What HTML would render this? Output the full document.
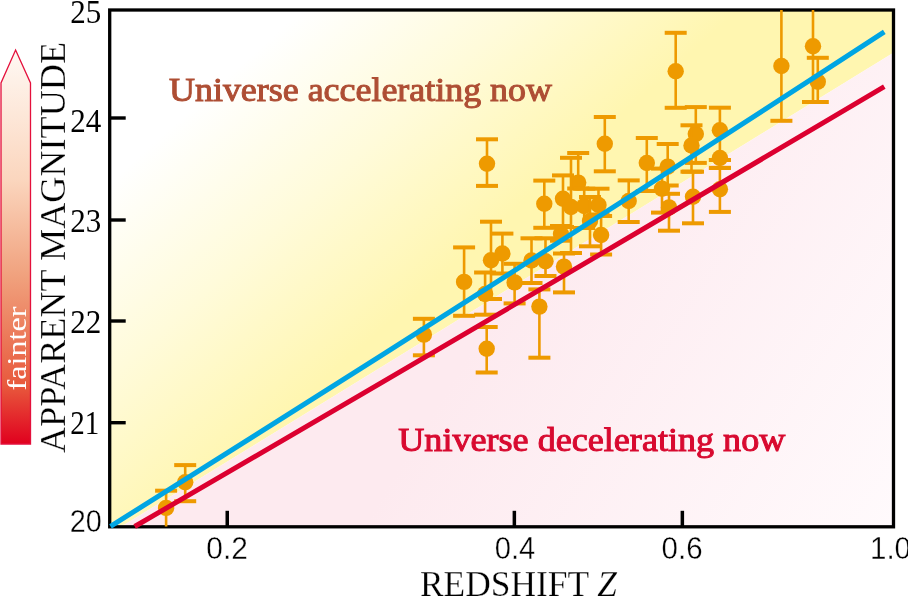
<!DOCTYPE html>
<html><head><meta charset="utf-8">
<style>
html,body{margin:0;padding:0;background:#fff;}
body{width:908px;height:597px;overflow:hidden;}
svg{display:block;will-change:transform;}
text{font-family:"Liberation Serif",serif;}
.sans{font-family:"Liberation Sans",sans-serif;}
</style></head><body>
<svg width="908" height="597" viewBox="0 0 908 597">
<defs>
<linearGradient id="gy" gradientUnits="userSpaceOnUse" x1="196" y1="105" x2="390" y2="322">
<stop offset="0" stop-color="#FFFFFF"/>
<stop offset="0.5" stop-color="#FFFBDA"/>
<stop offset="1" stop-color="#FFF6B0"/>
</linearGradient>
<linearGradient id="gp" gradientUnits="userSpaceOnUse" x1="508" y1="289" x2="893" y2="526">
<stop offset="0" stop-color="#FDEAEF"/>
<stop offset="1" stop-color="#FFFAFC"/>
</linearGradient>
<linearGradient id="ga" gradientUnits="userSpaceOnUse" x1="0" y1="49" x2="0" y2="444">
<stop offset="0" stop-color="#FFF9F4"/>
<stop offset="0.33" stop-color="#FBD6BE"/>
<stop offset="0.58" stop-color="#F0A07C"/>
<stop offset="0.85" stop-color="#E85A3D"/>
<stop offset="1" stop-color="#E0001E"/>
</linearGradient>
</defs>
<!-- backgrounds -->
<polygon points="110,10 893,10 893,53.1 124.3,524.8 110,526" fill="url(#gy)"/>
<polygon points="893,53.1 893,526 124.3,526 124.3,524.8" fill="url(#gp)"/>
<!-- arrow -->
<polygon points="1,444 1,83 15.6,50 30.5,83 30.5,444" fill="url(#ga)" stroke="#E4103C" stroke-width="1.3"/>
<text x="26" y="390.5" transform="rotate(-90 26 390.5)" fill="#fff" font-size="28" textLength="84" lengthAdjust="spacingAndGlyphs">fainter</text>
<!-- labels -->
<text x="64.8" y="453" transform="rotate(-90 64.8 453)" fill="#000" stroke="#fff" stroke-width="0.25" font-size="35" textLength="411" lengthAdjust="spacingAndGlyphs">APPARENT MAGNITUDE</text>
<text x="420" y="595.7" fill="#000" stroke="#fff" stroke-width="0.25" font-size="35" textLength="197" lengthAdjust="spacingAndGlyphs">REDSHIFT <tspan font-style="italic">Z</tspan></text>
<!-- y ticks labels -->
<g fill="#000" font-size="34">
<text x="70.3" y="23" textLength="31" lengthAdjust="spacingAndGlyphs">25</text>
<text x="70.3" y="131.7" textLength="31" lengthAdjust="spacingAndGlyphs">24</text>
<text x="70.3" y="231.5" textLength="31" lengthAdjust="spacingAndGlyphs">23</text>
<text x="70.3" y="332.9" textLength="31" lengthAdjust="spacingAndGlyphs">22</text>
<text x="70.3" y="433.9" textLength="29" lengthAdjust="spacingAndGlyphs">21</text>
</g>
<g fill="#000" stroke="#fff" stroke-width="0.35" font-size="31" class="sans">
<text class="sans" x="69.8" y="532.2" textLength="32" lengthAdjust="spacingAndGlyphs">20</text>
<text class="sans" x="206.3" y="559.2" textLength="41.5" lengthAdjust="spacingAndGlyphs">0.2</text>
<text class="sans" x="494.8" y="558.8" textLength="40.5" lengthAdjust="spacingAndGlyphs">0.4</text>
<text class="sans" x="661.6" y="558.9" textLength="41" lengthAdjust="spacingAndGlyphs">0.6</text>
<text class="sans" x="870" y="559.2" textLength="41" lengthAdjust="spacingAndGlyphs">1.0</text>
</g>
<!-- region labels -->
<text x="169" y="101" fill="#AE4E34" stroke="#AE4E34" stroke-width="1.0" font-size="33" textLength="383" lengthAdjust="spacingAndGlyphs">Universe accelerating now</text>
<text x="398.3" y="451.1" fill="#D80A30" stroke="#D80A30" stroke-width="1.0" font-size="33" textLength="387" lengthAdjust="spacingAndGlyphs">Universe decelerating now</text>
<!-- frame + ticks -->
<g fill="#000">
<rect x="109.7" y="116.3" width="16" height="3.4"/>
<rect x="109.7" y="218.3" width="16" height="3.4"/>
<rect x="109.7" y="319.3" width="16" height="3.4"/>
<rect x="109.7" y="421" width="16" height="3.4"/>
<rect x="225.5" y="510.8" width="3.5" height="16"/>
<rect x="512.6" y="510.8" width="3.5" height="16"/>
<rect x="680.6" y="510.8" width="3.5" height="16"/>
</g>
<rect x="109.7" y="10" width="783.8" height="516.8" fill="none" stroke="#000" stroke-width="3.3"/>
<!-- points -->
<g fill="#EE9A00">
<rect x="164.8" y="490.7" width="2.6" height="35.8"/>
<rect x="155.1" y="488.7" width="22" height="4"/>
<circle cx="166.1" cy="507.9" r="8.2"/>
<rect x="183.9" y="465.1" width="2.6" height="36.1"/>
<rect x="174.2" y="463.1" width="22" height="4"/>
<rect x="174.2" y="499.2" width="22" height="4"/>
<circle cx="185.2" cy="482.2" r="8.2"/>
<rect x="422.6" y="318.8" width="2.6" height="36.5"/>
<rect x="412.9" y="316.8" width="22" height="4"/>
<rect x="412.9" y="353.3" width="22" height="4"/>
<circle cx="423.9" cy="334.6" r="8.2"/>
<rect x="462.8" y="247.4" width="2.6" height="68.4"/>
<rect x="453.1" y="245.4" width="22" height="4"/>
<rect x="453.1" y="313.8" width="22" height="4"/>
<circle cx="464.1" cy="281.9" r="8.2"/>
<rect x="485.7" y="139.3" width="2.6" height="46.6"/>
<rect x="476.0" y="137.3" width="22" height="4"/>
<rect x="476.0" y="183.9" width="22" height="4"/>
<circle cx="487.0" cy="163.8" r="8.2"/>
<rect x="483.8" y="272.5" width="2.6" height="42.2"/>
<rect x="474.1" y="270.5" width="22" height="4"/>
<rect x="474.1" y="312.7" width="22" height="4"/>
<circle cx="485.1" cy="294.0" r="8.2"/>
<rect x="485.4" y="327.0" width="2.6" height="45.5"/>
<rect x="475.7" y="325.0" width="22" height="4"/>
<rect x="475.7" y="370.5" width="22" height="4"/>
<circle cx="486.7" cy="348.8" r="8.2"/>
<rect x="489.7" y="221.7" width="2.6" height="77.3"/>
<rect x="480.0" y="219.7" width="22" height="4"/>
<rect x="480.0" y="297.0" width="22" height="4"/>
<circle cx="491.0" cy="260.3" r="8.2"/>
<rect x="501.1" y="233.6" width="2.6" height="39.9"/>
<rect x="491.4" y="231.6" width="22" height="4"/>
<rect x="491.4" y="271.5" width="22" height="4"/>
<circle cx="502.4" cy="253.5" r="8.2"/>
<rect x="513.3" y="263.8" width="2.6" height="39.6"/>
<rect x="503.6" y="261.8" width="22" height="4"/>
<rect x="503.6" y="301.4" width="22" height="4"/>
<circle cx="514.6" cy="282.4" r="8.2"/>
<rect x="538.1" y="289.4" width="2.6" height="68.3"/>
<rect x="528.4" y="287.4" width="22" height="4"/>
<rect x="528.4" y="355.7" width="22" height="4"/>
<circle cx="539.4" cy="306.6" r="8.2"/>
<rect x="562.7" y="253.5" width="2.6" height="38.9"/>
<rect x="553.0" y="251.5" width="22" height="4"/>
<rect x="553.0" y="290.4" width="22" height="4"/>
<circle cx="564.0" cy="266.6" r="8.2"/>
<rect x="543.0" y="180.6" width="2.6" height="47.2"/>
<rect x="533.3" y="178.6" width="22" height="4"/>
<rect x="533.3" y="225.8" width="22" height="4"/>
<circle cx="544.3" cy="203.8" r="8.2"/>
<rect x="561.7" y="175.4" width="2.6" height="51.6"/>
<rect x="552.0" y="173.4" width="22" height="4"/>
<rect x="552.0" y="225.0" width="22" height="4"/>
<circle cx="563.0" cy="198.7" r="8.2"/>
<rect x="576.9" y="153.0" width="2.6" height="35.5"/>
<rect x="567.2" y="151.0" width="22" height="4"/>
<rect x="567.2" y="186.5" width="22" height="4"/>
<circle cx="578.2" cy="182.6" r="8.2"/>
<rect x="569.7" y="157.8" width="2.6" height="95.2"/>
<rect x="560.0" y="155.8" width="22" height="4"/>
<rect x="560.0" y="251.0" width="22" height="4"/>
<circle cx="571.0" cy="207.0" r="8.2"/>
<rect x="582.9" y="188.7" width="2.6" height="39.3"/>
<rect x="573.2" y="186.7" width="22" height="4"/>
<rect x="573.2" y="226.0" width="22" height="4"/>
<circle cx="584.2" cy="206.0" r="8.2"/>
<rect x="597.2" y="188.7" width="2.6" height="25.8"/>
<rect x="587.5" y="186.7" width="22" height="4"/>
<rect x="587.5" y="212.5" width="22" height="4"/>
<circle cx="598.5" cy="205.0" r="8.2"/>
<rect x="559.7" y="226.0" width="2.6" height="14.7"/>
<rect x="550.0" y="224.0" width="22" height="4"/>
<rect x="550.0" y="238.7" width="22" height="4"/>
<circle cx="561.0" cy="234.0" r="8.2"/>
<rect x="599.8" y="216.0" width="2.6" height="38.5"/>
<rect x="590.1" y="214.0" width="22" height="4"/>
<rect x="590.1" y="252.5" width="22" height="4"/>
<circle cx="601.1" cy="235.0" r="8.2"/>
<rect x="588.7" y="197.0" width="2.6" height="49.3"/>
<rect x="579.0" y="195.0" width="22" height="4"/>
<rect x="579.0" y="244.3" width="22" height="4"/>
<circle cx="590.0" cy="221.0" r="8.2"/>
<rect x="530.2" y="238.3" width="2.6" height="44.7"/>
<rect x="520.5" y="236.3" width="22" height="4"/>
<rect x="520.5" y="281.0" width="22" height="4"/>
<circle cx="531.5" cy="260.5" r="8.2"/>
<rect x="544.2" y="238.3" width="2.6" height="37.7"/>
<rect x="534.5" y="236.3" width="22" height="4"/>
<rect x="534.5" y="274.0" width="22" height="4"/>
<circle cx="545.5" cy="261.3" r="8.2"/>
<rect x="603.5" y="117.0" width="2.6" height="54.3"/>
<rect x="593.8" y="115.0" width="22" height="4"/>
<rect x="593.8" y="169.3" width="22" height="4"/>
<circle cx="604.8" cy="143.7" r="8.2"/>
<rect x="627.4" y="180.4" width="2.6" height="41.6"/>
<rect x="617.7" y="178.4" width="22" height="4"/>
<rect x="617.7" y="220.0" width="22" height="4"/>
<circle cx="628.7" cy="201.0" r="8.2"/>
<rect x="645.5" y="138.0" width="2.6" height="53.0"/>
<rect x="635.8" y="136.0" width="22" height="4"/>
<rect x="635.8" y="189.0" width="22" height="4"/>
<circle cx="646.8" cy="163.0" r="8.2"/>
<rect x="666.4" y="144.0" width="2.6" height="41.5"/>
<rect x="656.7" y="142.0" width="22" height="4"/>
<rect x="656.7" y="183.5" width="22" height="4"/>
<circle cx="667.7" cy="166.6" r="8.2"/>
<rect x="660.7" y="168.6" width="2.6" height="44.0"/>
<rect x="651.0" y="166.6" width="22" height="4"/>
<rect x="651.0" y="210.6" width="22" height="4"/>
<circle cx="662.0" cy="188.8" r="8.2"/>
<rect x="667.7" y="193.8" width="2.6" height="36.9"/>
<rect x="658.0" y="191.8" width="22" height="4"/>
<rect x="658.0" y="228.7" width="22" height="4"/>
<circle cx="669.0" cy="207.4" r="8.2"/>
<rect x="694.5" y="107.1" width="2.6" height="55.8"/>
<rect x="684.8" y="105.1" width="22" height="4"/>
<rect x="684.8" y="160.9" width="22" height="4"/>
<circle cx="695.8" cy="134.0" r="8.2"/>
<rect x="690.2" y="125.3" width="2.6" height="46.4"/>
<rect x="680.5" y="123.3" width="22" height="4"/>
<rect x="680.5" y="169.7" width="22" height="4"/>
<circle cx="691.5" cy="145.5" r="8.2"/>
<rect x="691.7" y="171.7" width="2.6" height="51.6"/>
<rect x="682.0" y="169.7" width="22" height="4"/>
<rect x="682.0" y="221.3" width="22" height="4"/>
<circle cx="693.0" cy="196.7" r="8.2"/>
<rect x="718.6" y="107.7" width="2.6" height="52.3"/>
<rect x="708.9" y="105.7" width="22" height="4"/>
<rect x="708.9" y="158.0" width="22" height="4"/>
<circle cx="719.9" cy="130.2" r="8.2"/>
<rect x="718.6" y="160.0" width="2.6" height="7.9"/>
<rect x="708.9" y="158.0" width="22" height="4"/>
<rect x="708.9" y="165.9" width="22" height="4"/>
<circle cx="719.9" cy="158.0" r="8.2"/>
<rect x="718.6" y="167.9" width="2.6" height="44.0"/>
<rect x="708.9" y="165.9" width="22" height="4"/>
<rect x="708.9" y="209.9" width="22" height="4"/>
<circle cx="719.9" cy="189.2" r="8.2"/>
<rect x="674.4" y="32.8" width="2.6" height="75.0"/>
<rect x="664.7" y="30.8" width="22" height="4"/>
<rect x="664.7" y="105.8" width="22" height="4"/>
<circle cx="675.7" cy="71.3" r="8.2"/>
<rect x="780.1" y="10.0" width="2.6" height="110.8"/>
<rect x="770.4" y="118.8" width="22" height="4"/>
<circle cx="781.4" cy="66.0" r="8.2"/>
<rect x="811.7" y="10.0" width="2.6" height="92.0"/>
<rect x="802.0" y="100.0" width="22" height="4"/>
<circle cx="813.0" cy="46.2" r="8.2"/>
<rect x="816.5" y="57.8" width="2.6" height="44.2"/>
<rect x="806.8" y="55.8" width="22" height="4"/>
<rect x="806.8" y="100.0" width="22" height="4"/>
<circle cx="817.8" cy="81.7" r="8.2"/>
</g>
<!-- lines -->
<path d="M110.5,526.3 Q497.4,283.9 884.3,31.9" fill="none" stroke="#00A5E3" stroke-width="5"/>
<path d="M134.7,526.5 Q509.5,308.6 884.3,86.6" fill="none" stroke="#DC0030" stroke-width="5"/>
</svg>
</body></html>
